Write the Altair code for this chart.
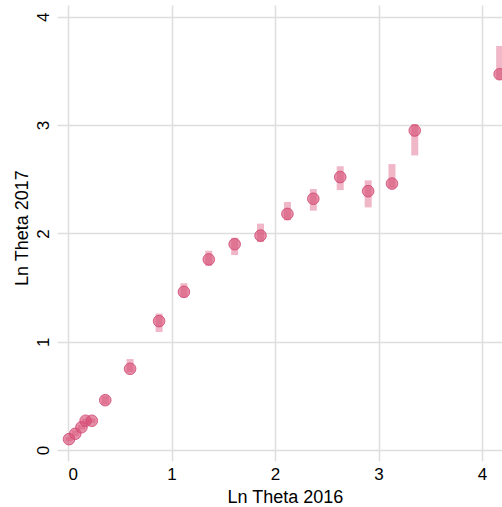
import altair as alt
import pandas as pd

# Ln Theta by group: 2016 value, 2017 estimate and its interval
ln_theta_2016 = [0.01, 0.07, 0.13, 0.17, 0.23, 0.36, 0.60, 0.88, 1.12, 1.36,
                 1.61, 1.86, 2.12, 2.37, 2.63, 2.90, 3.13, 3.35, 4.17]
ln_theta_2017 = [0.10, 0.15, 0.21, 0.27, 0.27, 0.46, 0.75, 1.19, 1.46, 1.76,
                 1.90, 1.98, 2.18, 2.32, 2.52, 2.39, 2.46, 2.95, 3.47]
ci_low = [0.08, 0.13, 0.19, 0.24, 0.25, 0.42, 0.72, 1.09, 1.41, 1.70,
          1.80, 1.92, 2.12, 2.21, 2.40, 2.24, 2.42, 2.72, 3.42]
ci_high = [0.12, 0.18, 0.23, 0.29, 0.29, 0.50, 0.84, 1.26, 1.54, 1.84,
           1.96, 2.09, 2.29, 2.41, 2.62, 2.49, 2.64, 3.01, 3.73]

df = pd.DataFrame({
    "x": ln_theta_2016,
    "y": ln_theta_2017,
    "lo": ci_low,
    "hi": ci_high,
})

PINK = "#d64a72"
GRID = "#dedede"
FONT = "Liberation Sans"

x_enc = alt.X(
    "x:Q",
    title="Ln Theta 2016",
    scale=alt.Scale(domain=[0, 4.193], nice=False, zero=False),
    axis=alt.Axis(values=[0, 1, 2, 3, 4], format="d", titlePadding=6),
)
y_scale = alt.Scale(domain=[0, 4.109], nice=False, zero=False)
y_axis = alt.Axis(values=[0, 1, 2, 3, 4], format="d", labelAngle=-90,
                  titlePadding=3)

bars = alt.Chart(df).mark_rule(
    color=PINK, opacity=0.4, strokeWidth=7, strokeCap="butt"
).encode(
    x=x_enc,
    y=alt.Y("lo:Q", title="Ln Theta 2017", scale=y_scale, axis=y_axis),
    y2="hi:Q",
)

points = alt.Chart(df).mark_circle(
    size=135, color=PINK, fillOpacity=0.62, strokeOpacity=0.8,
    stroke="#cf4570", strokeWidth=1
).encode(
    x=x_enc,
    y=alt.Y("y:Q", title="Ln Theta 2017", scale=y_scale, axis=y_axis),
)

chart = alt.layer(bars, points).properties(
    width=434,
    height=445,
    autosize=alt.AutoSizeParams(type="none"),
    padding={"left": 68, "top": 5, "right": 0, "bottom": 57},
).configure_view(
    stroke=None
).configure_axis(
    domain=False,
    grid=True,
    gridColor=GRID,
    gridWidth=1.5,
    tickColor=GRID,
    tickWidth=1.5,
    tickSize=11,
    labelFont=FONT,
    labelFontSize=17,
    labelColor="#000000",
    labelPadding=5,
    titleFont=FONT,
    titleFontSize=18,
    titleFontWeight="normal",
    titleColor="#000000",
)

chart.save("out.html", embed_options={"renderer": "svg", "actions": False})
